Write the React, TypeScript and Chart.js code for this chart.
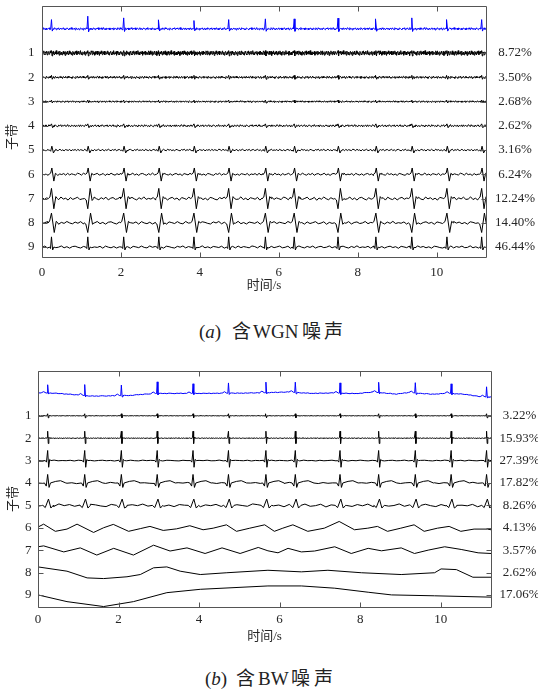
import React, { useEffect, useRef } from 'react';
import { Chart, registerables } from 'chart.js';
Chart.register(...registerables);

// ---------------- data ----------------
const XMAX = 11.25;
const X_TICKS = [0, 2, 4, 6, 8, 10];
const ROW_TICKS = [-1, -2, -3, -4, -5, -6, -7, -8, -9];
const ROW_LABELS = ['1', '2', '3', '4', '5', '6', '7', '8', '9'];
const PCT_A = ['8.72%', '3.50%', '2.68%', '2.62%', '3.16%', '6.24%', '12.24%', '14.40%', '46.44%'];
const PCT_B = ['3.22%', '15.93%', '27.39%', '17.82%', '8.26%', '4.13%', '3.57%', '2.62%', '17.06%'];

// R-peak times (s)
const BEATS = [0.24, 1.16, 2.07, 2.96, 3.85, 4.73, 5.66, 6.39, 7.5, 8.46, 9.37, 10.26, 11.14];

// hand-read noise texture (unit amplitude)
const NOISE = [0.4, -0.7, 0.9, -0.3, 0.2, -0.9, 0.6, -0.5, 0.1, 0.8, -0.6, -0.2, 0.7, -1.0, 0.3, -0.4, 0.9, -0.1, -0.7, 0.5,
  -0.3, 0.8, -0.8, 0.2, 0.6, -0.5, -0.1, 0.9, -0.6, 0.3, -0.9, 0.4, 0.7, -0.2, -0.8, 0.5, -0.4, 1.0, -0.5, 0.1,
  -0.3, 0.6, -0.9, 0.8, -0.1, -0.6, 0.4, -0.8, 0.2, 0.7, -0.4, 0.3, -1.0, 0.6, 0.1, -0.5, 0.8, -0.3, -0.7, 0.9,
  -0.2, 0.5, -0.6, 0.2, -0.9, 0.7, 0.3, -0.4, -0.8, 0.6, -0.1, 0.9, -0.7, 0.4, -0.2, 0.8, -0.5, -0.3, 1.0, -0.6,
  0.2, -0.8, 0.5, 0.1, -0.4, 0.7, -0.9, 0.3, -0.2, 0.6, -0.7, 0.8, -0.5, 0.4, -0.1, -0.6, 0.9];

// ---- panel (a): WGN ----
const BLUE_A_PEAK = [0.38, 0.52, 0.45, 0.37, 0.34, 0.38, 0.41, 0.41, 0.44, 0.41, 0.45, 0.38, 0.38];
const A_SIGN7 = [1, -1, 1, 1, 1, 1, 1, 1, -1, 1, 1, 1, 1];
const A_SIGN8 = [1, -1, 1, -1, 1, -1, 1, 1, -1, 1, -1, 1, -1];
const A_STEP = [0.02, 0.015, 0.02, 0.02, 0.025, 0.035, 0.05, 0.06, 0.07, 0.07];
const A_AMP = [0.05, 0.1, 0.05, 0.035, 0.05, 0.04, 0.05, 0.07, 0.06, 0.05];
const A_TMPL_BLUE = [[-0.02, 0], [0, 1], [0.02, -0.25], [0.045, 0]];
const A_TMPL_1 = [[-0.02, 0], [0, 0.1], [0.015, -0.12], [0.03, 0.05], [0.045, 0]];
const A_TMPL_2 = [[-0.02, 0], [0, 0.08], [0.02, -0.08], [0.04, 0]];
const A_TMPL_3 = [[-0.02, 0], [0, 0.06], [0.02, -0.06], [0.04, 0]];
const A_TMPL_4 = [[-0.03, 0], [0, 0.08], [0.03, -0.08], [0.06, 0]];
const A_TMPL_5 = [[-0.05, 0], [-0.02, -0.05], [0.01, 0.16], [0.05, -0.12], [0.09, 0]];
const A_TMPL_6 = [[-0.06, 0], [-0.02, 0.05], [0.01, 0.26], [0.06, -0.28], [0.1, 0.04], [0.13, 0]];
const A_TMPL_7 = [[-0.08, 0], [-0.04, 0.06], [0, 0.42], [0.06, -0.42], [0.11, 0.08], [0.15, 0]];
const A_TMPL_8 = [[-0.09, 0], [-0.05, 0.05], [0, 0.4], [0.07, -0.4], [0.12, 0.06], [0.16, 0]];
const A_TMPL_9 = [[-0.05, 0], [-0.025, -0.06], [0, 0.42], [0.03, -0.12], [0.06, 0]];

// ---- panel (b): BW ----
const BLUE_B_PEAK = [0.37, 0.49, 0.47, 0.52, 0.43, 0.46, 0.47, 0.46, 0.46, 0.46, 0.46, 0.43, 0.45];
const BLUE_B_BASE = [[0, 0.03], [0.5, 0], [1.0, -0.07], [1.3, -0.12], [1.8, -0.11], [2.3, -0.09], [2.6, -0.04], [3.0, 0],
  [4.0, 0], [5.0, 0.01], [5.6, 0.03], [6.2, 0.06], [6.8, 0], [7.3, 0.02], [7.9, -0.01], [8.3, 0.06], [8.9, -0.03],
  [9.2, 0.04], [9.8, -0.04], [10.15, 0.01], [10.6, -0.04], [11.0, -0.15], [11.25, -0.16]];
const B_STEP = [0.05, 0.03, 0.02, 0.1, 0.12, 0.13];
const B_AMP = [0.015, 0.01, 0.015, 0.02, 0.03, 0.07];
const B_TMPL_BLUE = [[-0.16, 0], [-0.1, 0.15], [-0.04, 0], [-0.015, 0], [0, 1], [0.02, -0.12], [0.04, 0]];
const B_TMPL_1 = [[-0.02, 0], [0, 0.09], [0.015, -0.09], [0.03, 0]];
const B_TMPL_2 = [[-0.03, 0], [-0.012, 0.04], [0, 0.31], [0.015, -0.24], [0.03, 0.04], [0.045, 0]];
const B_TMPL_3 = [[-0.06, 0], [-0.03, -0.07], [0, 0.45], [0.025, -0.3], [0.05, 0.05], [0.08, 0]];
const B_TMPL_4 = [[-0.08, 0], [-0.035, -0.14], [0, 0.38], [0.035, -0.2], [0.07, 0], [0.2, 0.07], [0.32, 0.1], [0.45, 0]];
const B_TMPL_5 = [[-0.12, 0], [-0.06, -0.1], [0.02, 0.28], [0.08, -0.12], [0.14, 0]];
const B_ROW6 = [[0, 0.03], [0.14, 0.16], [0.43, -0.16], [0.72, -0.06], [0.97, 0.16], [1.38, -0.21], [1.63, 0], [1.87, 0.15],
  [2.25, -0.16], [2.54, -0.04], [2.78, 0.06], [3.11, -0.12], [3.44, -0.05], [3.77, 0.09], [4.1, -0.09], [4.35, -0.02],
  [4.68, 0.13], [4.93, -0.16], [5.26, -0.02], [5.63, 0.13], [5.87, -0.16], [6.08, -0.02], [6.33, 0.13], [6.7, -0.16],
  [7.11, -0.02], [7.48, 0.28], [7.86, -0.09], [8.19, -0.02], [8.43, 0.06], [8.68, -0.16], [9.01, -0.02], [9.34, 0.13],
  [9.59, -0.16], [9.92, -0.02], [10.21, 0.06], [10.5, -0.16], [10.83, -0.06], [11.16, -0.06], [11.25, -0.09]];
const B_ROW7 = [[0, 0.15], [0.14, 0.19], [0.64, -0.08], [1.05, 0.1], [1.46, -0.22], [1.88, 0.08], [2.37, -0.22], [2.87, 0.22],
  [3.28, -0.04], [3.7, 0.1], [4.15, -0.15], [4.57, 0.1], [5.02, -0.15], [5.47, 0.12], [5.71, -0.03], [5.96, -0.12],
  [6.21, 0.08], [6.54, -0.08], [6.87, -0.04], [7.37, 0.15], [7.78, -0.15], [8.2, 0.08], [8.53, -0.03], [9.02, 0.1],
  [9.35, -0.15], [9.69, 0], [10.1, 0.15], [10.51, 0.03], [10.93, -0.12], [11.25, -0.15]];
const B_ROW8 = [[0, 0.25], [0.72, 0.06], [1.22, -0.24], [1.63, -0.27], [2.21, -0.19], [2.54, -0.09], [2.87, 0.21], [3.2, 0.25],
  [3.53, 0.06], [4.03, -0.09], [4.69, -0.01], [5.71, 0.1], [6.54, 0.03], [7.2, 0.1], [8.03, -0.01], [9.02, -0.09],
  [9.85, -0.01], [10.01, 0.16], [10.39, 0.13], [10.8, -0.21], [11.25, -0.21]];
const B_ROW9 = [[0, 0], [0.72, -0.3], [1.63, -0.52], [2.37, -0.3], [3.2, 0.1], [4.03, 0.25], [5.71, 0.4], [6.54, 0.4],
  [7.37, 0.3], [8.2, 0.12], [8.78, 0], [9.85, -0.04], [11.25, -0.1]];

// ---------------- styles ----------------
const BLUE = '#0000ff';
const BLACK = '#000000';
const AXIS = '#555555';
const TEXT = '#262626';
const SERIF = "'Liberation Serif', 'Times New Roman', serif";
const CJK = "'Liberation Serif', 'Noto Sans CJK SC', sans-serif";

// ---------------- builders ----------------
function baseAt(base: number[][] | null, t: number): number {
  if (!base) return 0;
  for (let i = 1; i < base.length; i++) {
    if (t <= base[i][0]) {
      const [t0, v0] = base[i - 1];
      const [t1, v1] = base[i];
      return v0 + ((v1 - v0) * (t - t0)) / (t1 - t0);
    }
  }
  return base[base.length - 1][1];
}

function buildSignal(offset: number, step: number, amp: number, shift: number,
  tmpl: number[][] | null, scales: number[] | null, base: number[][] | null) {
  const pts: { x: number; y: number }[] = [];
  const wins = tmpl ? BEATS.map((b) => [b + tmpl[0][0], b + tmpl[tmpl.length - 1][0]]) : [];
  const inWin = (t: number) => wins.some(([a, b]) => t > a && t < b);
  if (step > 0) {
    for (let k = 0; k * step <= XMAX + step; k++) {
      const t = k * step;
      if (inWin(t)) continue;
      pts.push({ x: t, y: offset + baseAt(base, t) + amp * NOISE[(k + shift) % NOISE.length] });
    }
  } else if (base) {
    base.forEach(([t, v]) => { if (!inWin(t)) pts.push({ x: t, y: offset + v }); });
  }
  if (tmpl) {
    BEATS.forEach((b, i) => {
      const s = scales ? scales[i] : 1;
      tmpl.forEach(([dt, v]) => {
        const t = b + dt;
        if (t >= 0 && t <= XMAX + 0.05) pts.push({ x: t, y: offset + baseAt(base, t) + s * v });
      });
    });
  }
  pts.sort((p, q) => p.x - q.x);
  return pts;
}

function lineDs(data: { x: number; y: number }[], color: string) {
  return { data, borderColor: color, borderWidth: 1, pointRadius: 0, tension: 0, fill: false };
}

function datasetsA() {
  const tm = [A_TMPL_BLUE, A_TMPL_1, A_TMPL_2, A_TMPL_3, A_TMPL_4, A_TMPL_5, A_TMPL_6, A_TMPL_7, A_TMPL_8, A_TMPL_9];
  const sc = [BLUE_A_PEAK, null, null, null, null, null, null, A_SIGN7, A_SIGN8, null];
  const out = [];
  for (let r = 0; r <= 9; r++) {
    out.push(lineDs(buildSignal(-r, A_STEP[r], A_AMP[r], r * 13, tm[r], sc[r], null), r === 0 ? BLUE : BLACK));
  }
  return out;
}

function datasetsB() {
  const tm = [B_TMPL_BLUE, B_TMPL_1, B_TMPL_2, B_TMPL_3, B_TMPL_4, B_TMPL_5];
  const out = [];
  for (let r = 0; r <= 5; r++) {
    out.push(lineDs(buildSignal(-r, B_STEP[r], B_AMP[r], r * 11, tm[r], r === 0 ? BLUE_B_PEAK : null,
      r === 0 ? BLUE_B_BASE : null), r === 0 ? BLUE : BLACK));
  }
  [B_ROW6, B_ROW7, B_ROW8, B_ROW9].forEach((row, i) => {
    out.push(lineDs(buildSignal(-(6 + i), 0, 0, 0, null, null, row), BLACK));
  });
  return out;
}

// ---------------- plugin: frame + inward ticks ----------------
const framePlugin = {
  id: 'frame',
  afterDatasetsDraw(chart: any) {
    const { ctx, chartArea } = chart;
    const { left, right, top, bottom } = chartArea;
    const x = chart.scales.x, y = chart.scales.y;
    const L = Math.round(left) + 0.5, R = Math.round(right) + 0.5;
    const T = Math.round(top) + 0.5, B = Math.round(bottom) + 0.5;
    ctx.save();
    ctx.strokeStyle = AXIS;
    ctx.lineWidth = 1;
    ctx.beginPath();
    ctx.moveTo(L, T); ctx.lineTo(R, T); ctx.lineTo(R, B); ctx.lineTo(L, B); ctx.closePath();
    X_TICKS.forEach((v) => {
      const px = Math.round(x.getPixelForValue(v)) + 0.5;
      ctx.moveTo(px, B); ctx.lineTo(px, B - 5);
      ctx.moveTo(px, T); ctx.lineTo(px, T + 5);
    });
    ROW_TICKS.forEach((v) => {
      const py = Math.round(y.getPixelForValue(v)) + 0.5;
      ctx.moveTo(L, py); ctx.lineTo(L + 5, py);
      ctx.moveTo(R, py); ctx.lineTo(R - 5, py);
    });
    ctx.stroke();
    ctx.restore();
  },
};

type PanelGeom = {
  padTop: number; leftW: number; rightW: number; xH: number; xTickPad: number; xTitlePad: number;
  yTickPad: number; rightPad: number; ymin: number; ymax: number; pct: string[];
};

function makeConfig(datasets: any[], g: PanelGeom) {
  const tickFont = { family: SERIF, size: 13 };
  return {
    type: 'line',
    data: { datasets },
    plugins: [framePlugin],
    options: {
      animation: false,
      responsive: false,
      maintainAspectRatio: false,
      events: [],
      parsing: false,
      layout: { padding: { top: g.padTop, left: 0, right: 0, bottom: 0 } },
      plugins: { legend: { display: false }, tooltip: { enabled: false } },
      scales: {
        x: {
          type: 'linear', min: 0, max: XMAX,
          grid: { display: false, drawTicks: false }, border: { display: false },
          afterBuildTicks: (s: any) => { s.ticks = X_TICKS.map((v) => ({ value: v })); },
          ticks: { font: tickFont, color: TEXT, padding: g.xTickPad, maxRotation: 0, autoSkip: false, callback: (v: any) => String(v) },
          title: { display: true, text: '时间/s', font: { family: CJK, size: 13 }, color: TEXT, padding: { top: 0, bottom: g.xTitlePad } },
          afterFit: (s: any) => { s.height = g.xH; s.paddingLeft = 0; s.paddingRight = 0; },
        },
        y: {
          type: 'linear', position: 'left', min: g.ymin, max: g.ymax,
          grid: { display: false, drawTicks: false }, border: { display: false },
          afterBuildTicks: (s: any) => { s.ticks = ROW_TICKS.map((v) => ({ value: v })); },
          ticks: { font: tickFont, color: TEXT, padding: g.yTickPad, autoSkip: false, callback: (v: any) => ROW_LABELS[Math.round(-v) - 1] },
          afterFit: (s: any) => { s.width = g.leftW; s.paddingTop = 0; s.paddingBottom = 0; },
        },
        y2: {
          type: 'linear', position: 'right', min: g.ymin, max: g.ymax,
          grid: { display: false, drawTicks: false }, border: { display: false },
          afterBuildTicks: (s: any) => { s.ticks = ROW_TICKS.map((v) => ({ value: v })); },
          ticks: { font: tickFont, color: TEXT, padding: g.rightPad, crossAlign: 'center', autoSkip: false, callback: (v: any) => g.pct[Math.round(-v) - 1] },
          afterFit: (s: any) => { s.width = g.rightW; s.paddingTop = 0; s.paddingBottom = 0; },
        },
      },
    },
  };
}

function Panel({ top, height, build }: { top: number; height: number; build: () => any }) {
  const ref = useRef<HTMLCanvasElement | null>(null);
  useEffect(() => {
    const c = new Chart(ref.current as any, build());
    return () => c.destroy();
  }, []);
  return (
    <canvas ref={ref} width={538} height={height}
      style={{ position: 'absolute', left: 0, top, width: 538, height }} />
  );
}

const capFont: any = { position: 'absolute', fontSize: 19, lineHeight: '24px', fontFamily: CJK, color: '#222', whiteSpace: 'nowrap' };
const yTitle = (cx: number, cy: number) => ({
  position: 'absolute' as const, left: cx - 20, top: cy - 8, width: 40, height: 16, lineHeight: '16px',
  textAlign: 'center' as const, fontSize: 13, fontFamily: CJK, color: TEXT, transform: 'rotate(-90deg)', whiteSpace: 'nowrap' as const,
});

export default function App() {
  const buildA = () => makeConfig(datasetsA(), {
    padTop: 6, leftW: 42, rightW: 52, xH: 43, xTickPad: 8, xTitlePad: 7, yTickPad: 7.5, rightPad: 9,
    ymin: -9.41, ymax: 0.94, pct: PCT_A,
  });
  const buildB = () => makeConfig(datasetsB(), {
    padTop: 31, leftW: 38, rightW: 47, xH: 53, xTickPad: 5.2, xTitlePad: 15.5, yTickPad: 6.5, rightPad: 8.5,
    ymin: -9.54, ymax: 1.0, pct: PCT_B,
  });
  return (
    <div style={{ position: 'absolute', left: 0, top: 0, width: 538, height: 693, background: '#fff', overflow: 'hidden' }}>
      <Panel top={0} height={300} build={buildA} />
      <div style={yTitle(12, 137)}>子带</div>
      <span style={{ ...capFont, left: 199, top: 320 }}>(<i>a</i>)</span>
      <span style={{ ...capFont, left: 232, top: 320 }}>含</span>
      <span style={{ ...capFont, left: 253, top: 320 }}>WGN</span>
      <span style={{ ...capFont, left: 302, top: 320, letterSpacing: 3 }}>噪声</span>
      <Panel top={340} height={320} build={buildB} />
      <div style={yTitle(12.5, 498.5)}>子带</div>
      <span style={{ ...capFont, left: 205, top: 667 }}>(<i>b</i>)</span>
      <span style={{ ...capFont, left: 236, top: 667 }}>含</span>
      <span style={{ ...capFont, left: 258, top: 667 }}>BW</span>
      <span style={{ ...capFont, left: 291, top: 667, letterSpacing: 4 }}>噪声</span>
    </div>
  );
}
